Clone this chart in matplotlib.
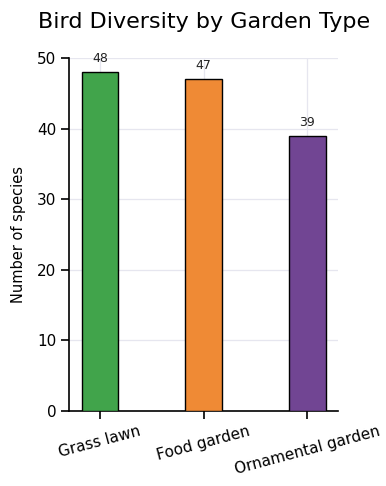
import matplotlib
matplotlib.use("Agg")
import matplotlib.pyplot as plt

# data
garden_types = ["Grass lawn", "Food garden", "Ornamental garden"]
species_counts = [48, 47, 39]
bar_colors = ["#41a44b", "#ef8a35", "#714593"]

fig, ax = plt.subplots(figsize=(3.86, 4.86), dpi=100)

bars = ax.bar(garden_types, species_counts, width=0.35, color=bar_colors,
              edgecolor="black", linewidth=1.0, zorder=3)

# value labels above bars
for b, v in zip(bars, species_counts):
    ax.text(b.get_x() + b.get_width() / 2, v + 1.0, str(v),
            ha="center", va="bottom", fontsize=9, color="#222222")

ax.set_ylim(0, 50)
ax.set_yticks([0, 10, 20, 30, 40, 50])
ax.set_ylabel("Number of species", fontsize=10.5, labelpad=8)
ax.set_title("Bird Diversity by Garden Type", fontsize=16, pad=22)

ax.grid(True, color="#e6e6ef", linewidth=0.9, zorder=0)
ax.set_axisbelow(True)
for s in ["top", "right"]:
    ax.spines[s].set_visible(False)
for s in ["left", "bottom"]:
    ax.spines[s].set_linewidth(1.2)

ax.tick_params(axis="both", length=6, width=1.2, labelsize=11)
plt.setp(ax.get_xticklabels(), rotation=15, ha="center")

fig.subplots_adjust(left=0.18, right=0.875, top=0.88, bottom=0.155)
fig.savefig("out.png", dpi=100)
